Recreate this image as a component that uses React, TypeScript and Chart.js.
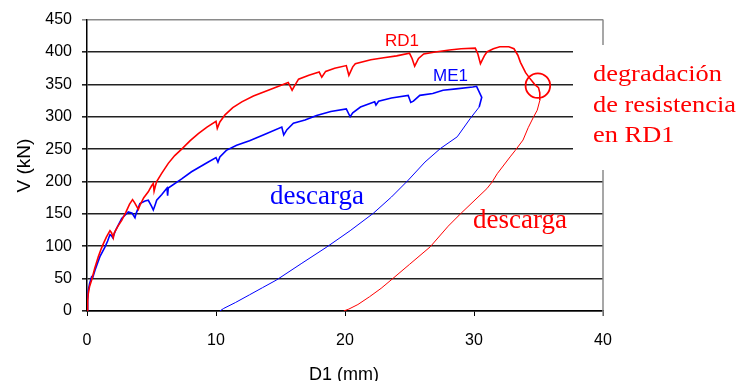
import React, { useEffect, useRef } from "react";
import { Chart, registerables } from "chart.js";

Chart.register(...registerables);

// RD1 curve (loading then unloading), D1 in mm, V in kN
const rd1X = [
  0, 0.05, 0.1, 0.2, 0.36, 0.6, 0.88, 1.1, 1.27, 1.5, 1.78, 1.9, 2.04, 2.1, 2.4, 2.69, 3.0, 3.3, 3.53, 3.7,
  3.98, 4.1, 4.4, 4.75, 5.0, 5.14, 5.2, 5.3, 5.4, 5.8, 6.3, 6.8, 7.34, 8.0, 8.63, 9.3, 10.0, 10.1, 10.3, 10.7,
  11.3, 12.0, 12.9, 13.8, 14.7, 15.6, 15.9, 16.1, 16.4, 17.2, 18.0, 18.2, 18.5, 19.2, 20.1, 20.3, 20.6, 20.8,
  22.0, 23.0, 24.0, 25.0, 25.2, 25.4, 25.7, 26.1, 27.0, 28.1, 29.0, 30.1, 30.3, 30.5, 30.8, 31.0, 31.5, 32.0,
  32.7, 33.1, 33.4, 33.6, 34.0, 34.3, 34.7, 35.0, 35.1, 35.1, 34.9, 34.6, 34.2, 33.8, 33.2, 32.8, 31.8, 31.4,
  31.0, 30.0, 29.0, 28.0, 26.6, 25.0, 23.7, 22.8, 21.9, 21.0, 20.3, 19.9,
];
const rd1Y = [
  0, 15, 27, 38, 48, 66, 84, 96, 104, 114, 124, 121, 113, 120, 131, 140, 152, 165, 172, 167,
  157, 163, 175, 184, 193, 197, 185, 193, 200, 213, 228, 240, 250, 263, 274, 284, 293, 282, 292, 303,
  314, 323, 332, 339, 346, 353, 341, 348, 358, 364, 369, 361, 370, 375, 379, 364, 377, 382,
  388, 391, 394, 398, 390, 378, 390, 397, 400, 403, 405, 406, 397, 382, 394, 400, 405, 408,
  408, 405, 395, 384, 368, 360, 350, 345, 337, 325, 310, 299, 283, 264, 248, 238, 212, 199,
  189, 170, 151, 131, 99, 72, 50, 35, 22, 10, 3, 0,
];
const rd1UnloadFrom = 83; // index where unloading starts

// ME1 curve (loading then unloading)
const me1X = [
  0, 0.05, 0.1, 0.2, 0.36, 0.45, 0.62, 0.8, 1.0, 1.4, 1.6, 1.78, 1.9, 2.0, 2.2, 2.69, 3.2, 3.5, 3.72, 3.8,
  4.1, 4.5, 4.75, 5.0, 5.14, 5.3, 5.4, 5.8, 6.2, 6.25, 6.3, 7.34, 8.1, 8.7, 9.3, 10.0, 10.15, 10.3, 10.8, 11.6,
  12.6, 13.8, 15.1, 15.25, 15.5, 16.0, 16.9, 17.8, 18.9, 20.1, 20.4, 20.6, 21.2, 22.3, 22.4, 22.6, 23.6, 24.9,
  25.1, 25.3, 25.8, 26.8, 27.6, 28.6, 29.9, 30.2, 30.6, 30.4, 29.7, 28.7, 27.4, 26.2, 24.9, 23.6, 22.2, 20.4,
  18.6, 16.6, 14.7, 13.6, 12.6, 11.5, 10.6, 10.3,
];
const me1Y = [
  0, 18, 32, 42, 53, 52, 63, 73, 84, 99, 108, 118, 116, 113, 124, 143, 153, 151, 144, 150,
  166, 170, 171, 162, 156, 165, 171, 180, 190, 178, 190, 204, 215, 222, 229, 237, 230, 238, 248, 256,
  263, 273, 284, 272, 280, 290, 295, 302, 308, 312, 300, 306, 315, 323, 318, 324, 329, 333,
  322, 324, 333, 336, 341, 343, 346, 347, 330, 315, 297, 269, 251, 230, 202, 176, 151, 124,
  99, 73, 48, 36, 25, 13, 4, 0,
];
const me1UnloadFrom = 65;

const xMin = 0, xMax = 40, xStep = 10;
const yMin = 0, yMax = 450, yStep = 50;

const seriesNames = ["RD1", "ME1"];
const xTitle = "D1 (mm)";
const yTitle = "V (kN)";
const unloadLabel = "descarga";
const noteLines = ["degradación", "de resistencia", "en RD1"];
const markPoint = [34.95, 348];

const toPts = (xs: number[], ys: number[]) => xs.map((x, i) => ({ x, y: ys[i] }));

const annotations = {
  id: "annotations",
  afterDraw(chart: any) {
    const ctx = chart.ctx;
    const xs = chart.scales.x;
    const ys = chart.scales.y;
    const area = chart.chartArea;
    ctx.save();
    // right border of plot area
    ctx.strokeStyle = "#8a8a8a";
    ctx.lineWidth = 1.5;
    ctx.beginPath();
    ctx.moveTo(area.right, area.top);
    ctx.lineTo(area.right, area.bottom + 5);
    ctx.stroke();
    // white box behind the note
    ctx.fillStyle = "#ffffff";
    ctx.fillRect(573, 45, 746 - 573, 125);

    // circle at degradation point
    ctx.strokeStyle = "#ff0000";
    ctx.lineWidth = 1.8;
    ctx.beginPath();
    ctx.arc(xs.getPixelForValue(markPoint[0]), ys.getPixelForValue(markPoint[1]), 12.3, 0, Math.PI * 2);
    ctx.stroke();

    // series labels
    ctx.textAlign = "left";
    ctx.textBaseline = "alphabetic";
    ctx.font = "17px 'Liberation Sans', Arial, sans-serif";
    ctx.fillStyle = "#ff0000";
    ctx.fillText(seriesNames[0], 385, 46);
    ctx.fillStyle = "#0000ff";
    ctx.fillText(seriesNames[1], 433, 81);

    // descarga labels
    ctx.font = "27px 'Liberation Serif', 'Times New Roman', serif";
    ctx.fillStyle = "#0000ff";
    ctx.fillText(unloadLabel, 270, 204);
    ctx.fillStyle = "#ff0000";
    ctx.fillText(unloadLabel, 473, 228);

    // note
    ctx.font = "24px 'Liberation Serif', 'Times New Roman', serif";
    ctx.fillStyle = "#ff0000";
    const bases = [81, 111.5, 142];
    noteLines.forEach((t, i) => {
      ctx.save();
      ctx.translate(593, bases[i]);
      ctx.scale(1.1, 1);
      ctx.fillText(t, 0, 0);
      ctx.restore();
    });

    // axis titles
    ctx.fillStyle = "#000000";
    ctx.font = "18px 'Liberation Sans', Arial, sans-serif";
    ctx.textAlign = "center";
    ctx.fillText(xTitle, 344, 380);
    ctx.save();
    ctx.translate(29.5, 165.5);
    ctx.rotate(-Math.PI / 2);
    ctx.font = "19px 'Liberation Sans', Arial, sans-serif";
    ctx.fillText(yTitle, 0, 0);
    ctx.restore();
    ctx.restore();
  },
};

export default function App() {
  const ref = useRef<HTMLCanvasElement>(null);
  useEffect(() => {
    if (!ref.current) return;
    const chart = new Chart(ref.current, {
      type: "scatter",
      data: {
        datasets: [
          {
            label: seriesNames[0],
            data: toPts(rd1X, rd1Y),
            showLine: true,
            borderColor: "#ff0000",
            borderWidth: 1.6,
            pointRadius: 0,
            tension: 0,
            segment: { borderWidth: (c: any) => (c.p0DataIndex >= rd1UnloadFrom + 2 ? 1 : 1.6) },
          },
          {
            label: seriesNames[1],
            data: toPts(me1X, me1Y),
            showLine: true,
            borderColor: "#0000ff",
            borderWidth: 1.6,
            pointRadius: 0,
            tension: 0,
            segment: { borderWidth: (c: any) => (c.p0DataIndex >= me1UnloadFrom + 2 ? 1 : 1.6) },
          },
        ],
      },
      options: {
        responsive: false,
        animation: false,
        devicePixelRatio: 1,
        layout: { padding: { left: 0, right: 143, top: 19, bottom: 0 } },
        plugins: { legend: { display: false }, tooltip: { enabled: false } },
        scales: {
          x: {
            type: "linear",
            min: xMin,
            max: xMax,
            afterFit: (s: any) => { s.height = 70; },
            ticks: {
              stepSize: xStep,
              color: "#000",
              padding: 15,
              maxRotation: 0,
              font: { family: "'Liberation Sans', Arial, sans-serif", size: 16 },
            },
            grid: { drawOnChartArea: false, drawTicks: true, tickLength: 5, color: "#000", lineWidth: 1 },
            border: { display: true, color: "#000", width: 1.5 },
          },
          y: {
            type: "linear",
            min: yMin,
            max: yMax,
            afterFit: (s: any) => { s.width = 87; },
            ticks: {
              stepSize: yStep,
              color: "#000",
              padding: 10,
              font: { family: "'Liberation Sans', Arial, sans-serif", size: 16 },
            },
            grid: {
              drawTicks: true,
              tickLength: 5,
              color: (c: any) => (c.tick && c.tick.value === yMax ? "#8a8a8a" : "#222222"),
              lineWidth: 1.6,
            },
            border: { display: true, color: "#000", width: 1.5 },
          },
        },
      },
      plugins: [annotations],
    });
    return () => chart.destroy();
  }, []);
  return (
    <div style={{ position: "absolute", left: 0, top: 0, width: 746, height: 381, background: "#fff" }}>
      <canvas ref={ref} width={746} height={381} style={{ display: "block" }} />
    </div>
  );
}
